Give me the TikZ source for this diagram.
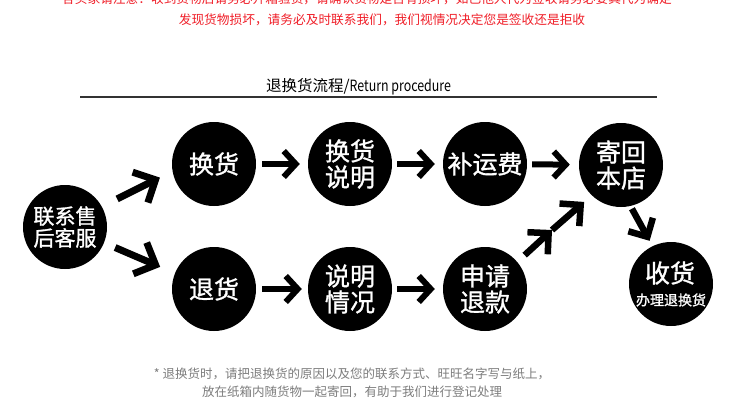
\documentclass[tikz,border=0pt]{standalone}
\usepackage{fontspec}
\usepackage{graphicx}
\setmainfont{Noto Sans CJK SC}
\newfontfamily\circfont{Noto Sans CJK SC}[FakeBold=1.2]
\usetikzlibrary{arrows.meta}
\definecolor{redtxt}{RGB}{240,30,40}
\definecolor{graytxt}{RGB}{125,125,125}
\definecolor{rulecol}{RGB}{50,50,50}
\tikzset{
  circ/.style={circle, fill=black, minimum size=84pt, inner sep=0pt, text=white, align=center,
    font=\circfont\fontsize{25}{26}\selectfont},
  harrow/.style={line width=6pt, -{Straight Barb[sharp,length=12pt,width=26pt]}},
  darrow/.style={line width=7pt, -{Straight Barb[sharp,length=17pt,width=34pt]}},
  marrow/.style={line width=6.5pt, -{Straight Barb[sharp,length=15pt,width=30pt]}},
  sarrow/.style={line width=6.5pt, -{Straight Barb[sharp,length=14pt,width=28pt]}},
  redline/.style={text=redtxt, font=\fontsize{12.7}{14}\selectfont, inner sep=0pt},
}
\begin{document}
\begin{tikzpicture}[x=1pt,y=-1pt]
\clip (0,0) rectangle (750,412);
\fill[white] (0,0) rectangle (750,412);

% red notice (top line cut off, as in the reference)
\node[redline] (r1) at (367,-1) {各买家请注意：收到货物后请务必开箱验货，请确认货物是否有损坏，如已他人代为签收请务必要其代为确定};
\node[redline] (r2) at (382,19.5) {发现货物损坏，请务必及时联系我们，我们视情况决定您是签收还是拒收};

% title
\node[inner sep=0pt, font=\fontsize{15.5}{16}\selectfont] (title) at (358.5,86.5) {退换货流程/\scalebox{0.8}[1]{Return procedure}};
\coordinate (ruleL) at (80,97);
\coordinate (ruleR) at (657,97);
\draw[line width=1.5pt, rulecol] (ruleL) -- (ruleR);

% circles
\node[circ, font=\circfont\fontsize{21}{22}\selectfont] (lx) at (65,227) {联系售\\后客服};
\node[circ] (hh) at (214,164) {换货};
\node[circ] (th) at (214,289) {退货};
\node[circ] (hs) at (350,164) {换货\\说明};
\node[circ] (sq) at (350,289) {说明\\情况};
\node[circ] (by) at (485,164) {补运费};
\node[circ] (tk) at (485,289) {申请\\退款};
\node[circ] (jh) at (621,165) {寄回\\本店};
\node[circ] (sh) at (671,284) {};
\node[text=white, inner sep=0pt, font=\circfont\fontsize{25}{26}\selectfont] (shA) at (670,273) {收货};
\node[text=white, inner sep=0pt, font=\circfont\fontsize{14}{15}\selectfont] (shB) at (671,300) {办理退换货};

% arrows
\draw[darrow, shorten <=17pt, shorten >=14pt] (lx.29) -- (hh.190);
\draw[darrow, shorten <=12pt, shorten >=16pt] (lx.-22) -- (th.158);
\draw[harrow, shorten <=6pt, shorten >=8pt] (hh) -- (hs);
\draw[harrow, shorten <=5pt, shorten >=8pt] (hs) -- (by);
\draw[harrow, shorten <=5pt, shorten >=9pt] (by) -- (jh);
\draw[harrow, shorten <=6pt, shorten >=6pt] (th) -- (sq);
\draw[harrow, shorten <=5pt, shorten >=8pt] (sq) -- (tk);
\coordinate (mid) at (552,230);
\draw[marrow, shorten <=10pt] (tk.40) -- (mid);
\draw[marrow, shorten >=10pt] (mid) -- (jh.226);
\draw[sarrow, shorten <=3pt, shorten >=6pt] (jh.-77) -- (sh.116);

% footnote
\node[text=graytxt, align=center, inner sep=0pt, font=\fontsize{12.5}{18}\selectfont] (note) at (352,383) {* 退换货时，请把退换货的原因以及您的联系方式、旺旺名字写与纸上，\\放在纸箱内随货物一起寄回，有助于我们进行登记处理};
\end{tikzpicture}
\end{document}
